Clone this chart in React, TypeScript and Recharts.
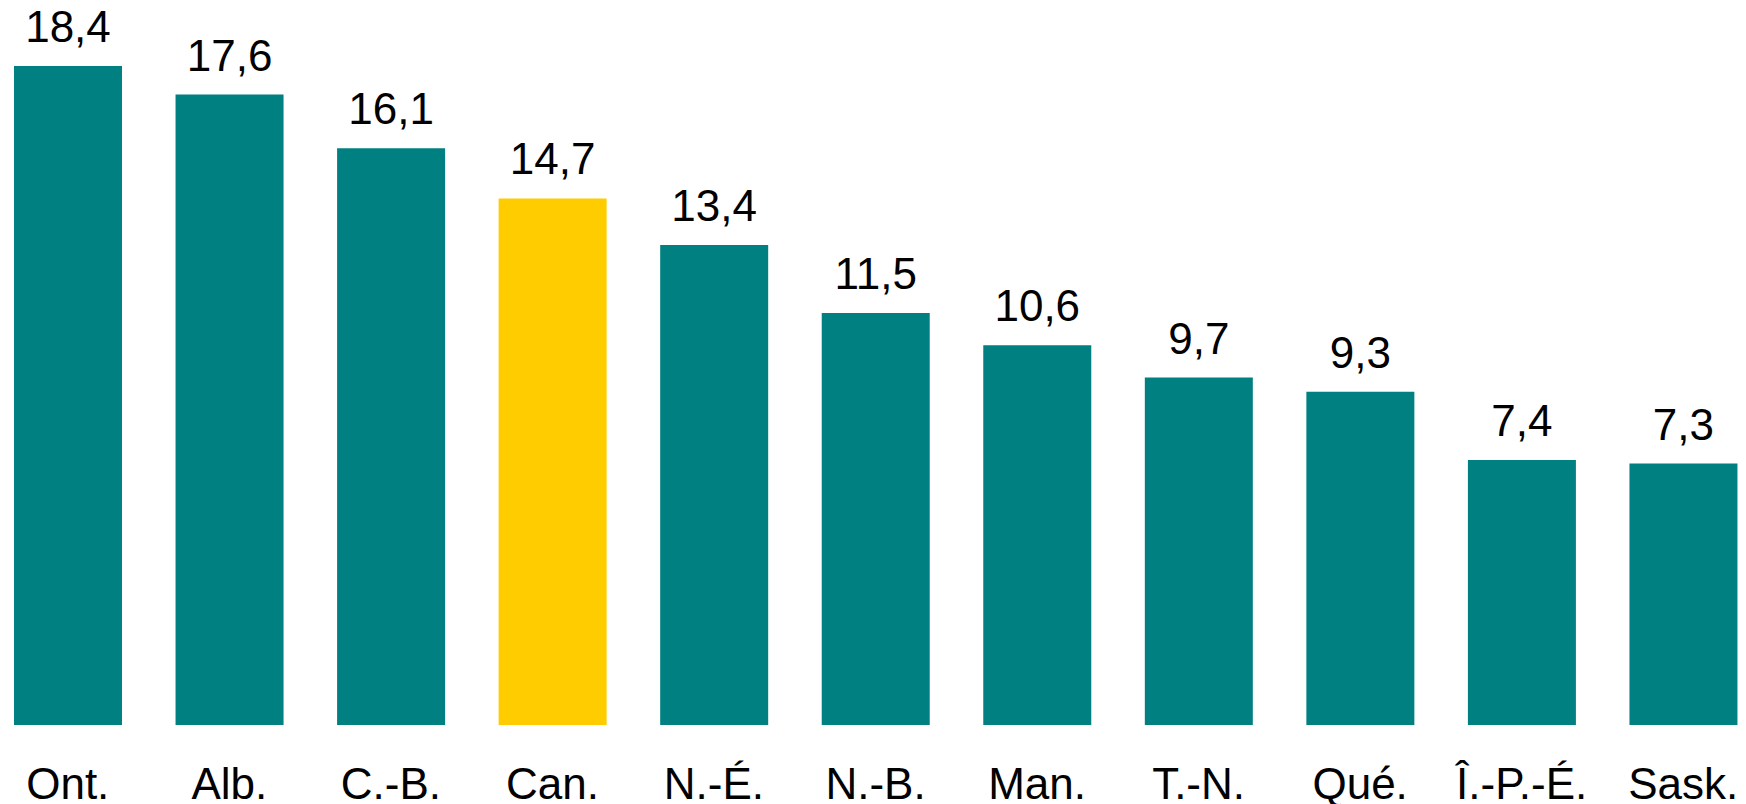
import React from "react";
import { BarChart, Bar, XAxis, YAxis, Cell, LabelList } from "recharts";

const categories = ["Ont.", "Alb.", "C.-B.", "Can.", "N.-É.", "N.-B.", "Man.", "T.-N.", "Qué.", "Î.-P.-É.", "Sask."];
const values = [18.4, 17.6, 16.1, 14.7, 13.4, 11.5, 10.6, 9.7, 9.3, 7.4, 7.3];
const highlight = ["Can."];

const TEAL = "#008080";
const GOLD = "#FFCC00";
const FONT = "'Liberation Sans', Arial, sans-serif";

const data = categories.map((c, i) => ({ name: c, value: values[i] }));

const fmt = (v: any) => Number(v).toFixed(1).replace(".", ",");

export default function App() {
  return (
    <div style={{ position: "absolute", left: 0, top: 0, width: 1746, height: 804, overflow: "hidden", background: "#fff" }}>
      <div style={{ marginLeft: -13, width: 1777, height: 804 }}>
        <BarChart
          width={1777}
          height={804}
          data={data}
          margin={{ top: 8.6, right: 0, bottom: 49, left: 0 }}
          barCategoryGap={0}
        >
          <XAxis
            dataKey="name"
            axisLine={false}
            tickLine={false}
            tickSize={0}
            tickMargin={43}
            height={30}
            interval={0}
            tick={{ fill: "#000", fontSize: 44, fontFamily: FONT }}
          />
          <YAxis hide domain={[0, 20]} />
          <Bar dataKey="value" barSize={108} isAnimationActive={false}>
            {data.map((d) => (
              <Cell key={d.name} fill={highlight.includes(d.name) ? GOLD : TEAL} />
            ))}
            <LabelList
              dataKey="value"
              position="top"
              offset={24}
              formatter={fmt}
              style={{ fill: "#000", fontSize: 44, fontFamily: FONT }}
            />
          </Bar>
        </BarChart>
      </div>
    </div>
  );
}
